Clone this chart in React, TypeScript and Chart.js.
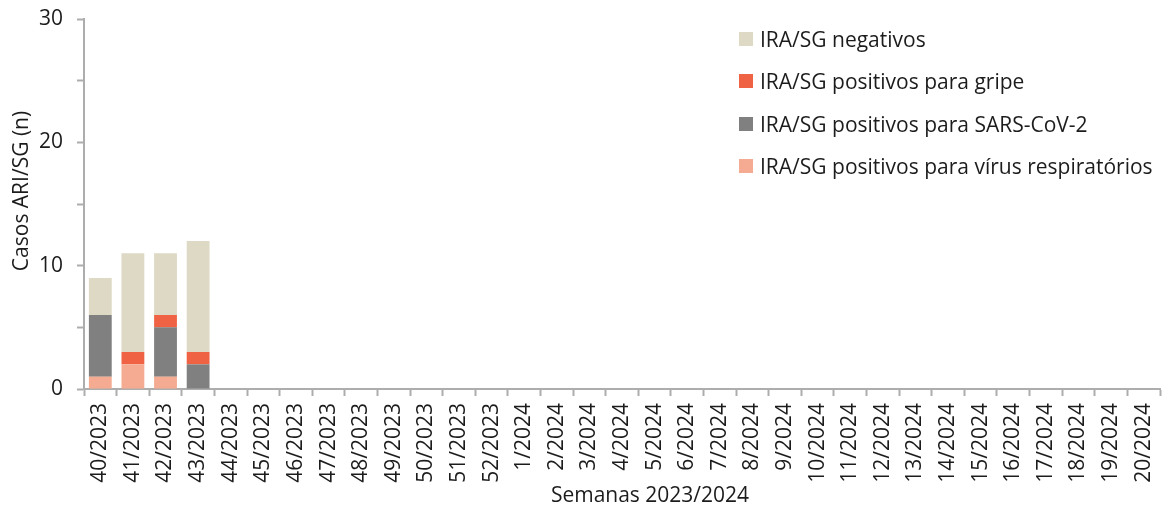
import React, { useEffect, useRef } from 'react';
import { Chart, registerables } from 'chart.js';

Chart.register(...registerables);

const weeks = [
  '40/2023', '41/2023', '42/2023', '43/2023', '44/2023', '45/2023', '46/2023', '47/2023',
  '48/2023', '49/2023', '50/2023', '51/2023', '52/2023', '1/2024', '2/2024', '3/2024',
  '4/2024', '5/2024', '6/2024', '7/2024', '8/2024', '9/2024', '10/2024', '11/2024',
  '12/2024', '13/2024', '14/2024', '15/2024', '16/2024', '17/2024', '18/2024', '19/2024', '20/2024',
];

const respiratorios = [1, 2, 1, 0];
const sarsCov2 = [5, 0, 4, 2];
const gripe = [0, 1, 1, 1];
const negativos = [3, 8, 5, 9];

const yTicks = [0, 10, 20, 30];

const seriesNames = [
  'IRA/SG positivos para vírus respiratórios',
  'IRA/SG positivos para SARS-CoV-2',
  'IRA/SG positivos para gripe',
  'IRA/SG negativos',
];
const seriesColors = ['#F4AB91', '#808080', '#EF6344', '#DDD9C4'];

const xTitle = 'Semanas 2023/2024';
const yTitle = 'Casos ARI/SG (n)';

const FONT = '"Open Sans", sans-serif';
const TEXT = '#1c1c1c';
const AXIS = '#ADADAD';

const titlesPlugin = {
  id: 'axisTitlesCustom',
  afterDraw(chart: any) {
    const { ctx, chartArea } = chart;
    ctx.save();
    ctx.font = `21px ${FONT}`;
    ctx.fillStyle = TEXT;
    ctx.textAlign = 'center';
    ctx.textBaseline = 'middle';
    ctx.fillText(xTitle, (chartArea.left + chartArea.right) / 2 + 28, 496);
    ctx.translate(22, (chartArea.top + chartArea.bottom) / 2 - 13);
    ctx.rotate(-Math.PI / 2);
    ctx.fillText(yTitle, 0, 0);
    ctx.restore();
  },
};

export default function App() {
  const canvasRef = useRef<HTMLCanvasElement | null>(null);

  useEffect(() => {
    const canvas = canvasRef.current;
    if (!canvas) return;
    const seriesData = [respiratorios, sarsCov2, gripe, negativos];
    const chart = new Chart(canvas, {
      type: 'bar',
      data: {
        labels: weeks,
        datasets: seriesData.map((d, i) => ({
          label: seriesNames[i],
          data: d,
          backgroundColor: seriesColors[i],
          borderWidth: 0,
          stack: 's',
          barPercentage: 0.7,
          categoryPercentage: 1,
        })),
      },
      plugins: [titlesPlugin],
      options: {
        responsive: false,
        animation: false,
        devicePixelRatio: 1,
        layout: { padding: { left: 0, right: 3, top: 19, bottom: 0 } },
        plugins: {
          legend: { display: false },
          tooltip: { enabled: false },
        },
        scales: {
          x: {
            stacked: true,
            offset: true,
            grid: {
              offset: true,
              drawOnChartArea: false,
              drawTicks: true,
              tickLength: 7,
              tickColor: AXIS,
              tickWidth: 2,
            },
            border: { color: AXIS, width: 2 },
            ticks: {
              autoSkip: false,
              minRotation: 90,
              maxRotation: 90,
              padding: 7,
              color: TEXT,
              font: { family: FONT, size: 21 },
            },
            afterFit(scale: any) {
              scale.height = 122;
              scale.paddingLeft = 0;
              scale.paddingRight = 0;
            },
          },
          y: {
            stacked: true,
            min: 0,
            max: 30,
            grid: {
              drawOnChartArea: false,
              drawTicks: true,
              tickLength: 7,
              tickColor: AXIS,
              tickWidth: 2,
            },
            border: { color: AXIS, width: 2 },
            ticks: {
              stepSize: 5,
              padding: 14,
              color: TEXT,
              font: { family: FONT, size: 21 },
              callback: (v: any) => (yTicks.includes(Number(v)) ? String(v) : ''),
            },
            afterFit(scale: any) {
              scale.width = 84;
              scale.paddingTop = 0;
              scale.paddingBottom = 0;
            },
          },
        },
      },
    });
    return () => chart.destroy();
  }, []);

  const legendOrder = [3, 2, 1, 0];

  return (
    <div style={{ position: 'absolute', left: 0, top: 0, width: 1163, height: 511, background: '#fff' }}>
      <canvas ref={canvasRef} width={1163} height={511} style={{ display: 'block' }} />
      <div style={{ position: 'absolute', left: 739, top: 24, fontFamily: FONT, fontSize: 21, color: TEXT }}>
        {legendOrder.map((i) => (
          <div key={i} style={{ display: 'flex', alignItems: 'center', height: 30, marginBottom: 12.3, whiteSpace: 'nowrap' }}>
            <span style={{ width: 14, height: 14, background: seriesColors[i], display: 'inline-block', marginRight: 7 }} />
            <span>{seriesNames[i]}</span>
          </div>
        ))}
      </div>
    </div>
  );
}
